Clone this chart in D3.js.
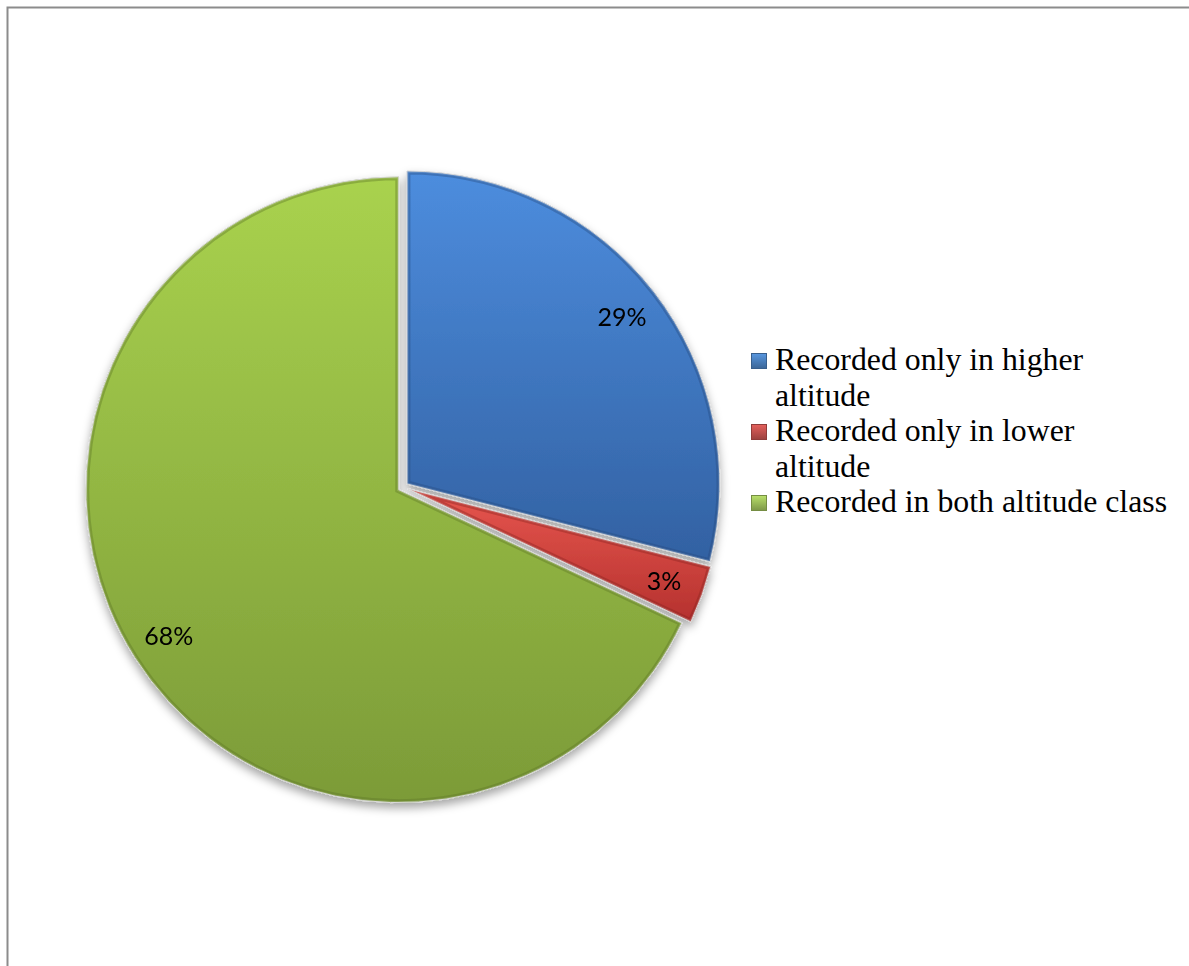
<!DOCTYPE html>
<html>
<head>
<meta charset="utf-8">
<script src="https://cdn.jsdelivr.net/npm/d3@7"></script>
<style>
  html, body { margin: 0; padding: 0; background: #fff; }
  svg { display: block; }
</style>
</head>
<body>
<div id="chart"></div>
<script>
/* Data */
const categories = [
  'Recorded only in higher altitude',
  'Recorded only in lower altitude',
  'Recorded in both altitude class'
];
const shares = [29, 3, 68];
const labels = ['29%', '3%', '68%'];

/* Local Constants */
const WIDTH = 1189;
const HEIGHT = 966;
const CENTER = { x: 403, y: 487 };
const RADIUS = 313;
const EXPLODE = 5;
const LEGEND = { x: 751, y: 370, lineHeight: 35.5, wrap: 398 };

// top / bottom gradient stops per slice
const colors = [
  { top: '#4D8DDE', bottom: '#3261A2', edge: '#264C80', key: '#4A7EBB' },
  { top: '#E8574F', bottom: '#B5312E', edge: '#8A2220', key: '#C0504D' },
  { top: '#A9D24E', bottom: '#7C9B38', edge: '#5C7626', key: '#9BBB59' }
];

const svg = d3.select('#chart')
  .append('svg')
  .attr('width', WIDTH)
  .attr('height', HEIGHT);

const defs = svg.append('defs');

// soft drop shadow under the pie
const shadow = defs.append('filter')
  .attr('id', 'shadow')
  .attr('x', '-10%').attr('y', '-10%')
  .attr('width', '120%').attr('height', '125%');
shadow.append('feDropShadow')
  .attr('dx', 0).attr('dy', 5)
  .attr('stdDeviation', 5)
  .attr('flood-color', '#000')
  .attr('flood-opacity', 0.35);

colors.forEach((c, i) => {
  const g = defs.append('linearGradient')
    .attr('id', `grad-${i}`)
    .attr('x1', 0).attr('x2', 0)
    .attr('y1', 0).attr('y2', 1);
  g.append('stop').attr('offset', '0%').attr('stop-color', c.top);
  g.append('stop').attr('offset', '100%').attr('stop-color', c.bottom);

  const k = defs.append('linearGradient')
    .attr('id', `key-${i}`)
    .attr('x1', 0).attr('x2', 0).attr('y1', 0).attr('y2', 1);
  k.append('stop').attr('offset', '0%').attr('stop-color', d3.color(c.key).brighter(0.5));
  k.append('stop').attr('offset', '100%').attr('stop-color', d3.color(c.key).darker(0.6));
});

// chart frame (runs off right and bottom like the source)
svg.append('rect')
  .attr('x', 7.5)
  .attr('y', 7.5)
  .attr('width', WIDTH + 20)
  .attr('height', HEIGHT + 20)
  .attr('fill', 'none')
  .attr('stroke', '#8c8c8c')
  .attr('stroke-width', 2);

const pie = d3.pie().sort(null).value(d => d)(shares);
const arc = d3.arc().innerRadius(0).outerRadius(RADIUS);
const labelArc = d3.arc().innerRadius(RADIUS * 0.87).outerRadius(RADIUS * 0.87);

const offset = d => {
  const mid = (d.startAngle + d.endAngle) / 2;
  return [Math.sin(mid) * EXPLODE, -Math.cos(mid) * EXPLODE];
};

const pieG = svg.append('g')
  .attr('transform', `translate(${CENTER.x},${CENTER.y})`)
  .attr('filter', 'url(#shadow)');

const slices = pieG.selectAll('g.slice')
  .data(pie)
  .enter()
  .append('g')
  .attr('class', 'slice')
  .attr('transform', d => `translate(${offset(d)})`);

slices.each(function (d, i) {
  const clip = defs.append('clipPath').attr('id', `clip-${i}`);
  clip.append('path').attr('d', arc(d));
});

slices.append('path')
  .attr('d', arc)
  .attr('fill', (d, i) => `url(#grad-${i})`);

// bevel: darker inner rim + faint light outline
slices.append('path')
  .attr('d', arc)
  .attr('clip-path', (d, i) => `url(#clip-${i})`)
  .attr('fill', 'none')
  .attr('stroke', (d, i) => colors[i].edge)
  .attr('stroke-opacity', 0.4)
  .attr('stroke-width', 7);

slices.append('path')
  .attr('d', arc)
  .attr('clip-path', (d, i) => `url(#clip-${i})`)
  .attr('fill', 'none')
  .attr('stroke', '#fff')
  .attr('stroke-opacity', 0.2)
  .attr('stroke-width', 3);

slices.append('path')
  .attr('d', arc)
  .attr('fill', 'none')
  .attr('stroke', '#d9d9d9')
  .attr('stroke-width', 1);

// percentage labels
slices.append('text')
  .attr('transform', d => `translate(${labelArc.centroid(d)})`)
  .attr('text-anchor', 'middle')
  .attr('dy', '0.36em')
  .style('font-family', 'Lato, "Open Sans", sans-serif')
  .style('font-size', '25px')
  .style('fill', '#000')
  .text((d, i) => labels[i]);

// legend
const legend = svg.append('g')
  .attr('transform', `translate(${LEGEND.x},${LEGEND.y})`);

let line = 0;
categories.forEach((name, i) => {
  const item = legend.append('g')
    .attr('transform', `translate(0,${line * LEGEND.lineHeight})`);

  item.append('rect')
    .attr('x', 0.5)
    .attr('y', -16.5)
    .attr('width', 15)
    .attr('height', 15)
    .attr('fill', `url(#key-${i})`)
    .attr('stroke', d3.color(colors[i].key).darker(0.8))
    .attr('stroke-width', 1);

  const text = item.append('text')
    .attr('x', 24)
    .style('font-family', '"Liberation Serif", "Times New Roman", serif')
    .style('font-size', '31.8px')
    .style('fill', '#000');

  // wrap long names over several lines
  const words = name.split(' ');
  let current = [];
  let tspan = text.append('tspan').attr('x', 24).attr('y', 0);
  let rows = 1;
  words.forEach(word => {
    current.push(word);
    tspan.text(current.join(' '));
    if (tspan.node().getComputedTextLength() > LEGEND.wrap && current.length > 1) {
      current.pop();
      tspan.text(current.join(' '));
      current = [word];
      tspan = text.append('tspan')
        .attr('x', 24)
        .attr('y', rows * LEGEND.lineHeight)
        .text(word);
      rows += 1;
    }
  });
  line += rows;
});
</script>
</body>
</html>
